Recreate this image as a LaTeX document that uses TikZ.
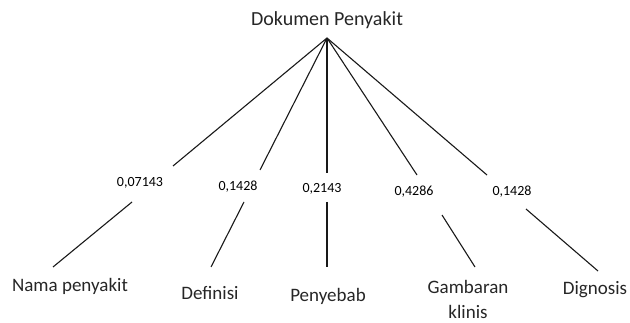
\documentclass[tikz,border=0pt]{standalone}
\usepackage{fontspec}
\setmainfont{Carlito}
\begin{document}
\begin{tikzpicture}[x=1pt,y=-1pt,
  lbl/.style={inner sep=0pt,anchor=center,font=\fontsize{19}{22}\selectfont,text=black!85},
  num/.style={inner sep=0pt,anchor=center,font=\fontsize{14}{16}\selectfont},
  edge/.style={draw=black!90,line width=1.1pt}]
\useasboundingbox (0,0) rectangle (630,323);
\node[lbl,font=\fontsize{20}{24}\selectfont] (root) at (327,20) {Dokumen Penyakit};
\coordinate (apex) at (327,38);
% numbers
\node[num] (w1) at (140,183) {0,07143};
\node[num] (w2) at (238,187) {0,1428};
\node[num] (w3) at (322,189) {0,2143};
\node[num] (w4) at (414,192) {0,4286};
\node[num] (w5) at (512,192) {0,1428};
% upper ends
\coordinate (u1) at (173,166);
\coordinate (u2) at (260,170);
\coordinate (u3) at (327,173);
\coordinate (u4) at (417,175);
\coordinate (u5) at (487,175);
% lower segments
\coordinate (a1) at (132,202); \coordinate (b1) at (53,267);
\coordinate (a2) at (244,202); \coordinate (b2) at (211,267);
\coordinate (a3) at (327,202); \coordinate (b3) at (327,267);
\coordinate (a4) at (442,215); \coordinate (b4) at (475,267);
\coordinate (a5) at (526,209); \coordinate (b5) at (598,271);
% leaves
\node[lbl] (l1) at (70,286) {Nama penyakit};
\node[lbl] (l2) at (210,293) {Definisi};
\node[lbl] (l3) at (328,296) {Penyebab};
\node[lbl,align=center] (l4) at (468,299.5) {Gambaran\\[3pt]klinis};
\node[lbl] (l5) at (595,290) {Dignosis};
\foreach \i in {1,...,5}{
  \draw[edge] (apex) -- (u\i);
  \draw[edge] (a\i) -- (b\i);
}
\end{tikzpicture}
\end{document}
